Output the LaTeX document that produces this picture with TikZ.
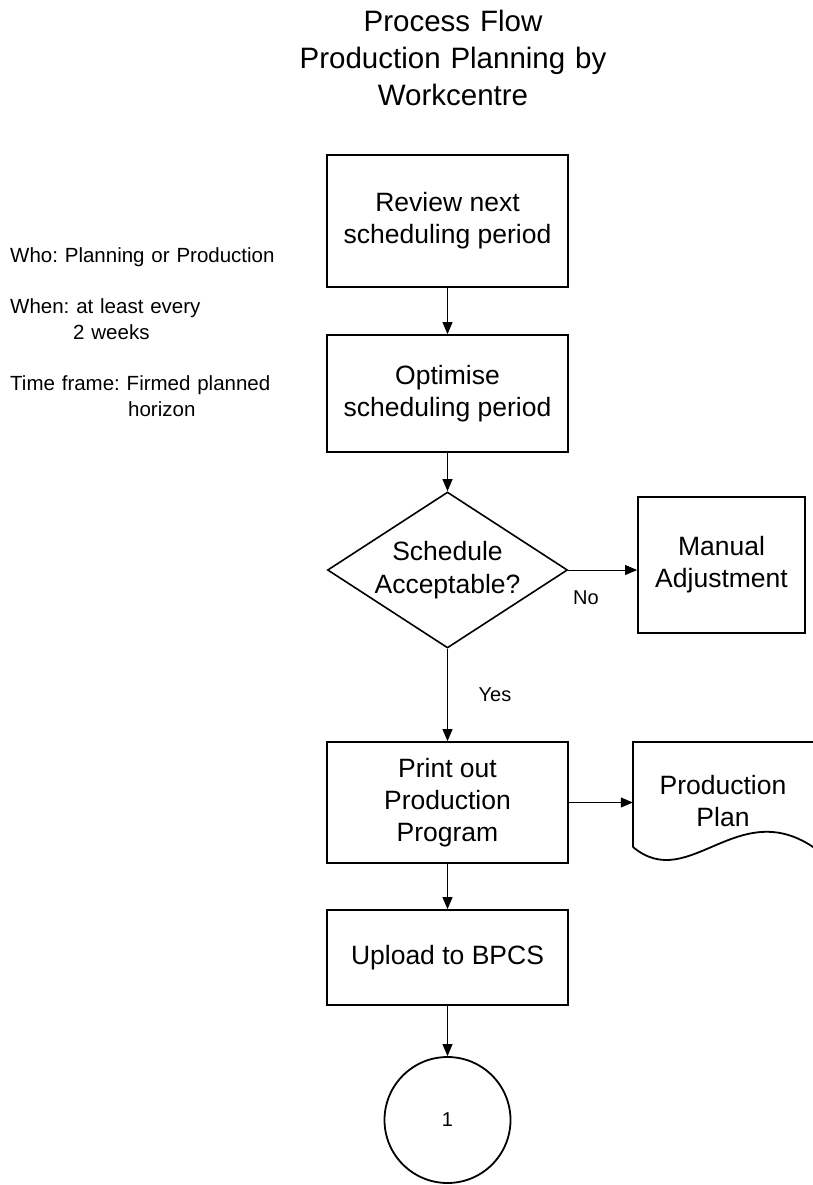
\documentclass[tikz,border=0pt]{standalone}
\usepackage{fontspec}
\setmainfont{Liberation Sans}
\frenchspacing
\usepackage{tikz}
\usetikzlibrary{shapes.geometric, arrows.meta, positioning}
\tikzset{>={Triangle[length=12pt,width=10pt]}}
\tikzset{
  procbox/.style={draw, line width=1.8pt, minimum width=241pt, align=center, inner sep=0pt, font=\fontsize{26.5}{32}\selectfont},
  decision/.style={draw, diamond, line width=1.6pt, minimum width=240pt, minimum height=156pt, aspect=1.54, inner sep=0pt, align=center, font=\fontsize{26.5}{33}\selectfont},
  docnode/.style={minimum width=180pt, inner sep=0pt, align=center, font=\fontsize{26.5}{32}\selectfont},
  connector/.style={draw, circle, line width=1.8pt, minimum size=126pt, inner sep=0pt, font=\fontsize{20}{24}\selectfont},
  heading/.style={anchor=base, text width=440pt, align=center, inner sep=0pt, font=\fontsize{29.5}{37}\selectfont},
  note/.style={anchor=base west, text width=300pt, align=left, inner sep=0pt, font=\fontsize{20.5}{26.5}\selectfont},
  lbl/.style={inner sep=0pt, font=\fontsize{20}{24}\selectfont},
  flow/.style={->, line width=1pt},
}

\begin{document}
\begin{tikzpicture}[x=1pt, y=-1pt]
  \clip (0,0) rectangle (813,1185);

  \node[heading] (title) at (453,32) {Process Flow\\Production Planning by\\Workcentre};

  % who / when / time frame
  \node[note] (who) at (10,262) {Who: Planning or Production};
  \node[note] (when) at (10,313) {When: at least every\\\hspace*{63pt}2 weeks};
  \node[note] (frame) at (10,390) {Time frame: Firmed planned\\\hspace*{118pt}horizon};

  % main column
  \node[procbox, minimum height=132pt] (review) at (447.5,221) {Review next\\scheduling period};
  \node[procbox, minimum height=117pt] (optim) at (447.5,393.5) {Optimise\\scheduling period};
  \node[decision] (check) at (447.5,570) {Schedule\\Acceptable?};
  \node[procbox, minimum width=167pt, minimum height=136pt] (adjust) at (721.5,565) {Manual\\Adjustment};
  \node[procbox, minimum height=121pt] (print) at (447.5,802.5) {Print out\\Production\\Program};
  \node[procbox, minimum height=95pt] (upload) at (447.5,957.5) {Upload to BPCS};
  \node[connector] (link) at (447.5,1120) {1};

  % printed plan
  \node[docnode] (plan) at (723,801) {Production\\Plan};
  \draw[line width=1.8pt] (633,847) -- (633,742) -- (820,742) -- (820,852)
    .. controls (740,790) and (690,895) .. (633,847);

  \node[lbl] (no) at (586,598) {No};
  \node[lbl] (yes) at (495,695) {Yes};

  \draw[flow] (review) -- (optim);
  \draw[flow] (optim) -- (check);
  \draw[flow] (check.east) -- (check.east -| adjust.west);
  \draw[flow] (check) -- (print);
  \draw[flow] (print) -- (upload);
  \draw[flow] (print.east) -- (print.east -| plan.west);
  \draw[flow] (upload) -- (link);
\end{tikzpicture}
\end{document}
